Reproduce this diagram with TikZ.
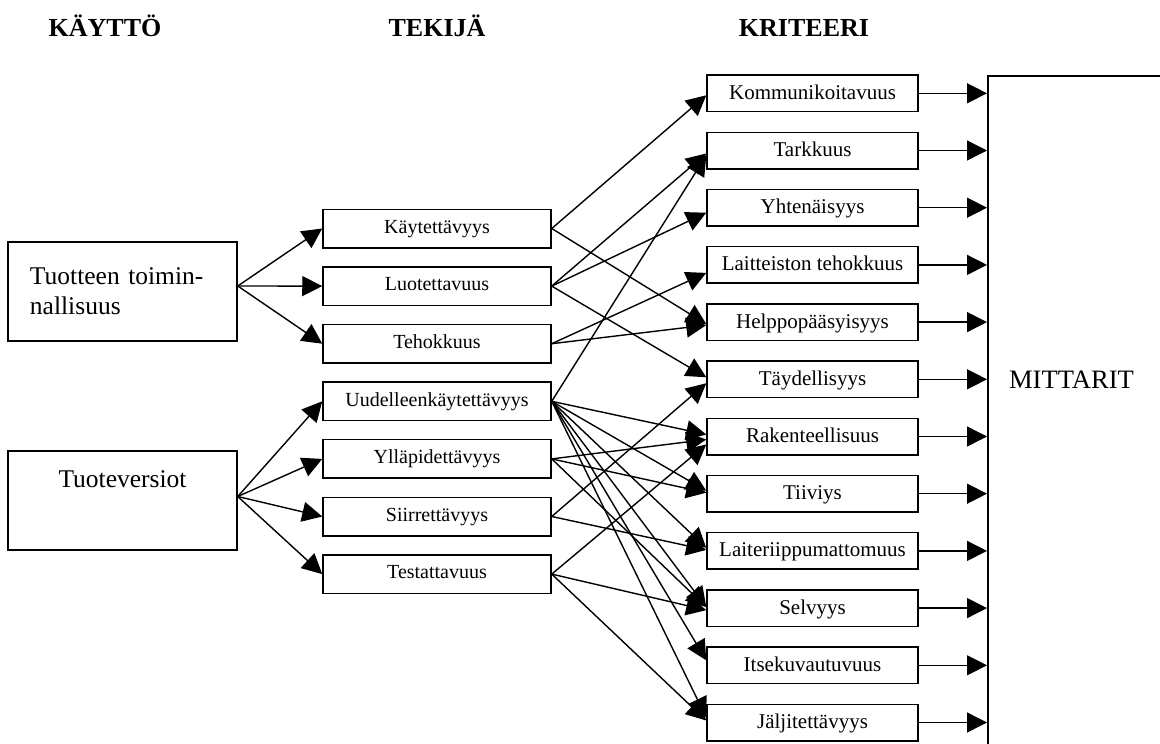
\documentclass[tikz,border=0pt]{standalone}
\usepackage{fontspec}
\setmainfont{Liberation Serif}
\usetikzlibrary{arrows.meta}
\begin{document}
\begin{tikzpicture}[x=1pt,y=-1pt,
  box/.style={draw, line width=1.5pt, inner sep=0pt},
  usebox/.style={box, minimum width=229pt, minimum height=99pt, font=\fontsize{25.5}{30}\selectfont},
  mid/.style={box, minimum width=228pt, minimum height=38.5pt, text height=14pt, text depth=4.5pt, font=\fontsize{20}{24}\selectfont},
  crit/.style={box, minimum width=211pt, minimum height=36.5pt, text height=15pt, text depth=3pt, font=\fontsize{21}{25}\selectfont},
  arr/.style={line width=1.4pt, -{Triangle[length=20pt,width=20pt]}},
  hdr/.style={font=\fontsize{26}{30}\selectfont\bfseries, anchor=base}]
\useasboundingbox (0,0) rectangle (1160,744);

% headers
\node[hdr] (h1) at (105,36) {KÄYTTÖ};
\node[hdr] (h2) at (437,36) {TEKIJÄ};
\node[hdr] (h3) at (804,36) {KRITEERI};

% left boxes
\node[usebox, text width=185pt, align=left] (tt) at (122.5,291.5) {Tuotteen toimin-\\nallisuus};
\node[usebox] (tv) at (122.5,500.5) {\raisebox{13.5pt}[0pt][0pt]{Tuoteversiot}};

% middle boxes
\node[mid] (kay) at (437,228.5) {Käytettävyys};
\node[mid] (luo) at (437,286.1) {Luotettavuus};
\node[mid] (teh) at (437,343.7) {Tehokkuus};
\node[mid] (uud) at (437,401.3) {Uudelleenkäytettävyys};
\node[mid] (yll) at (437,458.9) {Ylläpidettävyys};
\node[mid] (sii) at (437,516.5) {Siirrettävyys};
\node[mid] (tes) at (437,574.1) {Testattavuus};

% criteria boxes
\node[crit] (kom) at (812.5,93.3) {Kommunikoitavuus};
\node[crit] (tar) at (812.5,150.5) {Tarkkuus};
\node[crit] (yht) at (812.5,207.7) {Yhtenäisyys};
\node[crit] (lai) at (812.5,264.9) {Laitteiston tehokkuus};
\node[crit] (hel) at (812.5,322.1) {Helppopääsyisyys};
\node[crit] (tay) at (812.5,379.3) {Täydellisyys};
\node[crit] (rak) at (812.5,436.5) {Rakenteellisuus};
\node[crit] (tii) at (812.5,493.7) {Tiiviys};
\node[crit] (lri) at (812.5,550.9) {Laiteriippumattomuus};
\node[crit] (sel) at (812.5,608.1) {Selvyys};
\node[crit] (its) at (812.5,665.3) {Itsekuvautuvuus};
\node[crit] (jal) at (812.5,722.5) {Jäljitettävyys};

% MITTARIT box
\node[box, anchor=north west, minimum width=180pt, minimum height=690pt] (mit) at (987,75) {};
\node[font=\fontsize{26.6}{30}\selectfont, anchor=base] (mittxt) at (1071.5,388) {MITTARIT};

% left -> middle
\draw[arr] ([yshift=5.5pt]tt.east) -- (kay.west);
\draw[arr] ([yshift=5.5pt]tt.east) -- (luo.west);
\draw[arr] ([yshift=5.5pt]tt.east) -- (teh.west);
\draw[arr] ([yshift=4pt]tv.east) -- (uud.west);
\draw[arr] ([yshift=4pt]tv.east) -- (yll.west);
\draw[arr] ([yshift=4pt]tv.east) -- (sii.west);
\draw[arr] ([yshift=4pt]tv.east) -- (tes.west);

% middle -> criteria
\draw[arr] (kay.east) -- ([yshift=-2pt]kom.west);
\draw[arr] (kay.east) -- ([yshift=-2pt]hel.west);
\draw[arr] (luo.east) -- ([yshift=-3pt]tar.west);
\draw[arr] (luo.east) -- ([yshift=-5pt]yht.west);
\draw[arr] (luo.east) -- ([yshift=2pt]tay.west);
\draw[arr] (teh.east) -- ([yshift=-8pt]lai.west);
\draw[arr] (teh.east) -- ([yshift=-3pt]hel.west);
\draw[arr] (uud.east) -- ([yshift=-5pt]tar.west);
\draw[arr] (uud.east) -- ([yshift=2pt]rak.west);
\draw[arr] (uud.east) -- ([yshift=3pt]tii.west);
\draw[arr] (uud.east) -- ([yshift=3pt]lri.west);
\draw[arr] (uud.east) -- ([yshift=1pt]sel.west);
\draw[arr] (uud.east) -- ([yshift=5pt]its.west);
\draw[arr] (uud.east) -- ([yshift=5pt]jal.west);
\draw[arr] (yll.east) -- ([yshift=-3pt]rak.west);
\draw[arr] (yll.east) -- ([yshift=1pt]tii.west);
\draw[arr] (yll.east) -- ([yshift=1pt]sel.west);
\draw[arr] (sii.east) -- ([yshift=-4pt]tay.west);
\draw[arr] (sii.east) -- ([yshift=1pt]lri.west);
\draw[arr] (tes.east) -- ([yshift=-8pt]rak.west);
\draw[arr] (tes.east) -- ([yshift=-2pt]sel.west);
\draw[arr] (tes.east) -- ([yshift=2pt]jal.west);

% criteria -> MITTARIT
\foreach \n in {kom,tar,yht,lai,hel,tay,rak,tii,lri,sel,its,jal}
  \draw[arr] (\n.east) -- (\n.east -| mit.west);
\end{tikzpicture}
\end{document}
